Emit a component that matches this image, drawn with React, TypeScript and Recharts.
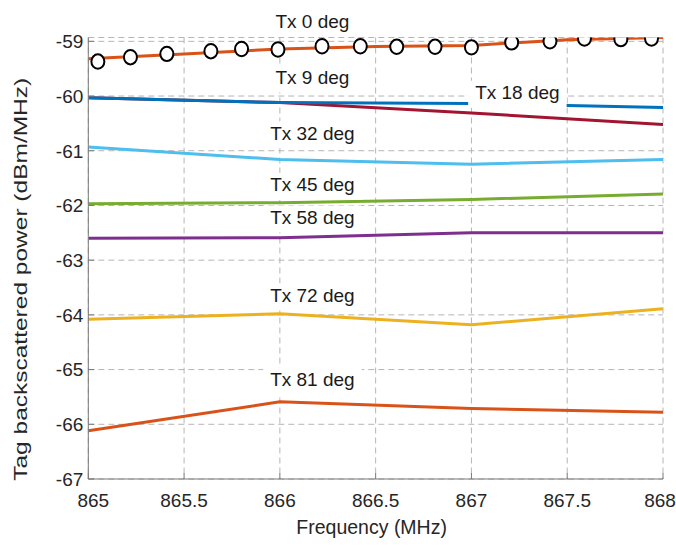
import React from 'react';
import { ComposedChart, Line, XAxis, YAxis, CartesianGrid, ReferenceDot } from 'recharts';

// ---------- data ----------
const FREQ = [865, 866, 867, 868];
const X_TICKS = [865, 865.5, 866, 866.5, 867, 867.5, 868];
const Y_TICKS = [-67, -66, -65, -64, -63, -62, -61, -60, -59];

const TX0_FREQ = [865, 865.5, 866, 866.5, 867, 867.5, 868];
const TX0_POWER = [-59.32, -59.23, -59.14, -59.095, -59.075, -58.97, -58.93];
const TX0_MARK_FREQ = [865.05, 865.22, 865.41, 865.64, 865.8, 865.99, 866.22, 866.42, 866.61, 866.81, 867.0, 867.21, 867.41, 867.59, 867.78, 867.94];
const TX0_MARK_POWER = [-59.37, -59.29, -59.23, -59.18, -59.14, -59.15, -59.09, -59.09, -59.1, -59.1, -59.11, -59.02, -59.0, -58.95, -58.96, -58.95];

const TX9 = [-60.03, -60.12, -60.135, -60.21];
const TX18 = [-60.03, -60.12, -60.31, -60.52];
const TX32 = [-60.93, -61.16, -61.245, -61.16];
const TX45 = [-61.97, -61.95, -61.89, -61.79];
const TX58 = [-62.6, -62.59, -62.5, -62.5];
const TX72 = [-64.08, -63.98, -64.18, -63.89];
const TX81 = [-66.12, -65.59, -65.71, -65.78];

const LABEL_TEXT = ['Tx 0 deg', 'Tx 9 deg', 'Tx 18 deg', 'Tx 32 deg', 'Tx 45 deg', 'Tx 58 deg', 'Tx 72 deg', 'Tx 81 deg'];
const LABEL_FREQ = [866.17, 866.17, 867.24, 866.17, 866.17, 866.17, 866.17, 866.17];
const LABEL_POWER = [-58.625, -59.65, -59.93, -60.673, -61.614, -62.21, -63.635, -65.17];

// ---------- styles ----------
const FONT = '"Liberation Sans", Arial, Helvetica, sans-serif';
const AXIS_COLOR = '#7a7a7a';
const TEXT_COLOR = '#262626';
const C_ORANGE = '#D95319';
const C_BLUE = '#0072BD';
const C_RED = '#A2142F';
const C_LBLUE = '#4DBEEE';
const C_GREEN = '#77AC30';
const C_PURPLE = '#7E2F8E';
const C_YELLOW = '#EDB120';

const toPts = (xs: number[], ys: number[]) => xs.map((x, i) => ({ x, y: ys[i] }));

const CHAR_W: Record<string, number> = { T: 0.611, x: 0.5, ' ': 0.278, d: 0.556, e: 0.556, g: 0.556 };
const textWidth = (s: string, fs: number) =>
  s.split('').reduce((a, c) => a + (CHAR_W[c] ?? 0.556), 0) * fs;

const makeLabelShape = (text: string) => (props: any) => {
  const { cx, cy } = props;
  const fs = 19;
  const w = textWidth(text, fs);
  return (
    <g>
      <rect x={cx - w / 2 - 7} y={cy - 11.5} width={w + 14} height={27} fill="#ffffff" />
      <text x={cx} y={cy + 6.8} textAnchor="middle" fontSize={fs} fontFamily={FONT} fill="#1a1a1a">
        {text}
      </text>
    </g>
  );
};

const LeftTick = (props: any) => {
  const { x, y, payload } = props;
  return (
    <g>
      <line x1={x + 5} x2={x + 11} y1={y} y2={y} stroke={AXIS_COLOR} />
      <text x={x} y={y + 6.8} textAnchor="end" fontSize={19} fontFamily={FONT} fill={TEXT_COLOR}>
        {String(payload.value)}
      </text>
    </g>
  );
};

const RightTick = (props: any) => {
  const { x, y } = props;
  return <line x1={x - 6} x2={x} y1={y} y2={y} stroke={AXIS_COLOR} />;
};

const BottomTick = (props: any) => {
  const { x, y, payload } = props;
  const v = payload.value;
  const dx = v === X_TICKS[0] ? 5 : v === X_TICKS[X_TICKS.length - 1] ? -3 : 0;
  return (
    <g>
      <line x1={x} x2={x} y1={y} y2={y - 6} stroke={AXIS_COLOR} />
      <text x={x + dx} y={y + 28} textAnchor="middle" fontSize={19} fontFamily={FONT} fill={TEXT_COLOR}>
        {String(v)}
      </text>
    </g>
  );
};

const TopTick = (props: any) => {
  const { x, y } = props;
  return <line x1={x} x2={x} y1={y} y2={y + 6} stroke={AXIS_COLOR} />;
};

const XTitle = (props: any) => {
  const vb = props.viewBox || { x: 88, y: 479, width: 575, height: 68 };
  return (
    <text
      x={vb.x + vb.width / 2 - 4}
      y={vb.y + 55}
      textAnchor="middle"
      fontSize={19.5}
      fontFamily={FONT}
      fill={TEXT_COLOR}
    >
      Frequency (MHz)
    </text>
  );
};

const YTitle = () => {
  const cx = 27.5;
  const cy = 279.3;
  return (
    <text
      x={cx}
      y={cy}
      transform={`rotate(-90 ${cx} ${cy})`}
      textAnchor="middle"
      fontSize={19}
      fontFamily={FONT}
      fill={TEXT_COLOR}
      textLength={403}
      lengthAdjust="spacingAndGlyphs"
    >
      Tag backscattered power (dBm/MHz)
    </text>
  );
};

const MarkerDot = (props: any) => {
  const { cx, cy, index } = props;
  if (cx == null || cy == null) return <g key={`m${index}`} />;
  return <ellipse key={`m${index}`} cx={cx} cy={cy} rx={6.5} ry={7.2} fill="#ffffff" stroke="#000000" strokeWidth={2} />;
};

export default function App() {
  const series = [
    { data: toPts(FREQ, TX81), color: C_ORANGE, name: 'Tx 81 deg' },
    { data: toPts(FREQ, TX72), color: C_YELLOW, name: 'Tx 72 deg' },
    { data: toPts(FREQ, TX58), color: C_PURPLE, name: 'Tx 58 deg' },
    { data: toPts(FREQ, TX45), color: C_GREEN, name: 'Tx 45 deg' },
    { data: toPts(FREQ, TX32), color: C_LBLUE, name: 'Tx 32 deg' },
    { data: toPts(FREQ, TX18), color: C_RED, name: 'Tx 18 deg' },
    { data: toPts(FREQ, TX9), color: C_BLUE, name: 'Tx 9 deg' },
  ];
  return (
    <div style={{ position: 'absolute', left: 0, top: 0, background: '#fff' }}>
      <ComposedChart width={676} height={547} margin={{ top: 37.5, right: 13, bottom: 0, left: 0 }}>
        <CartesianGrid strokeDasharray="6 4" stroke="#b5b5b5" strokeWidth={1} />
        <XAxis
          dataKey="x"
          type="number"
          domain={[865, 868]}
          ticks={X_TICKS}
          allowDataOverflow
          interval={0}
          height={68}
          tickSize={0}
          tickMargin={0}
          tickLine={false}
          tick={BottomTick}
          axisLine={{ stroke: AXIS_COLOR }}
          label={{ content: XTitle }}
        />
        <XAxis
          xAxisId="t"
          orientation="top"
          dataKey="x"
          type="number"
          domain={[865, 868]}
          ticks={X_TICKS}
          allowDataOverflow
          interval={0}
          height={0}
          tickSize={0}
          tickMargin={0}
          tickLine={false}
          tick={TopTick}
          axisLine={{ stroke: AXIS_COLOR }}
        />
        <YAxis
          type="number"
          domain={[-67, -58.93]}
          ticks={Y_TICKS}
          allowDataOverflow
          interval={0}
          width={88.3}
          tickSize={0}
          tickMargin={5}
          tickLine={false}
          tick={LeftTick}
          axisLine={{ stroke: AXIS_COLOR }}
          label={{ content: YTitle }}
        />
        <YAxis
          yAxisId="r"
          orientation="right"
          type="number"
          domain={[-67, -58.93]}
          ticks={Y_TICKS}
          allowDataOverflow
          interval={0}
          width={0}
          tickSize={0}
          tickMargin={0}
          tickLine={false}
          tick={RightTick}
          axisLine={{ stroke: AXIS_COLOR }}
        />
        {series.map((s) => (
          <Line
            key={s.name}
            data={s.data}
            dataKey="y"
            type="linear"
            stroke={s.color}
            strokeWidth={3}
            dot={false}
            isAnimationActive={false}
          />
        ))}
        <Line
          data={toPts(TX0_FREQ, TX0_POWER)}
          dataKey="y"
          type="linear"
          stroke={C_ORANGE}
          strokeWidth={3}
          dot={false}
          isAnimationActive={false}
        />
        <Line
          data={toPts(TX0_MARK_FREQ, TX0_MARK_POWER)}
          dataKey="y"
          type="linear"
          stroke="none"
          dot={MarkerDot}
          isAnimationActive={false}
        />
        {LABEL_TEXT.map((t, i) => (
          <ReferenceDot
            key={t}
            x={LABEL_FREQ[i]}
            y={LABEL_POWER[i]}
            r={0}
            ifOverflow="visible"
            shape={makeLabelShape(t)}
            {...({ zIndex: 1500 } as any)}
          />
        ))}
      </ComposedChart>
    </div>
  );
}
